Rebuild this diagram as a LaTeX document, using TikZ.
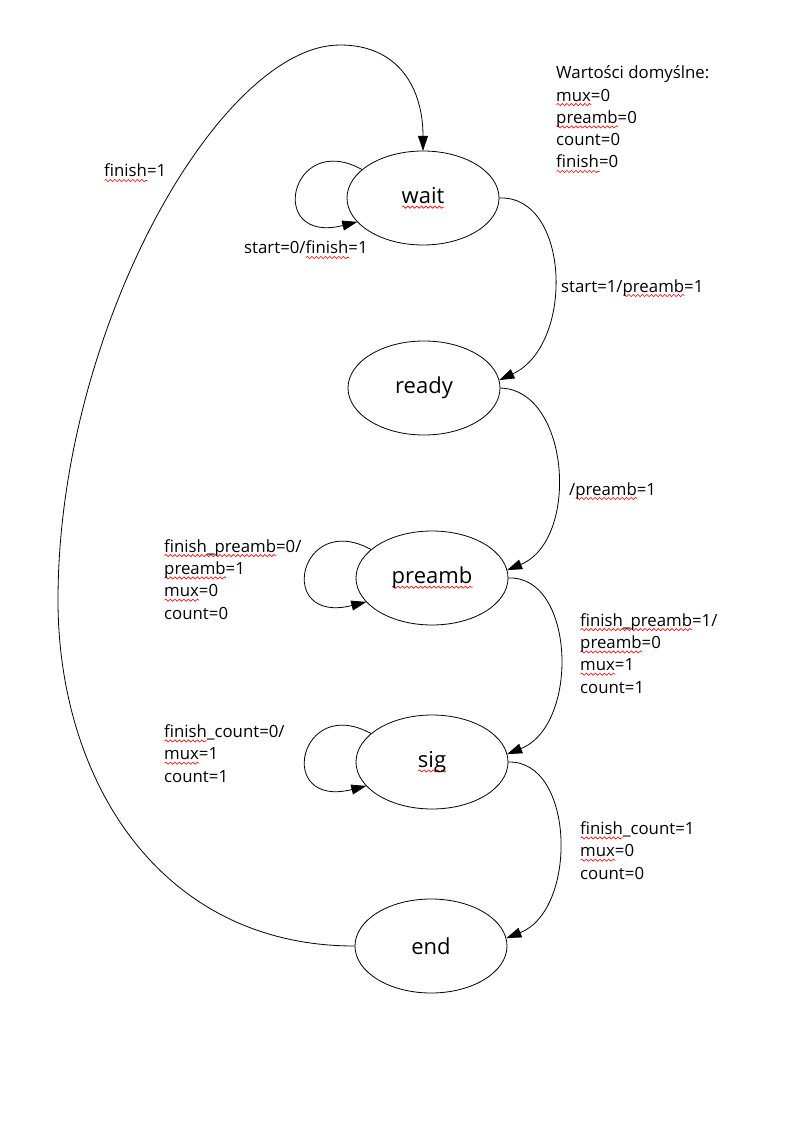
\documentclass[tikz,border=0pt]{standalone}
\usepackage{fontspec}
\setmainfont{Open Sans}
\usetikzlibrary{shapes.geometric,arrows.meta,decorations.pathmorphing}
\tikzset{spellwave/.style={red, line width=0.6pt, decorate, decoration={snake, amplitude=1.1pt, segment length=4.5pt}}}
% red wavy underline, as in the original drawing
\newsavebox\spellbox
\newlength\spellwd
\newcommand\spell[1]{\sbox\spellbox{#1}\setlength\spellwd{\wd\spellbox}%
    \rlap{\tikz[baseline=0pt]\draw[spellwave] (0pt,-3.5pt) -- (\spellwd,-3.5pt);}\usebox\spellbox}

\begin{document}
\begin{tikzpicture}[x=1pt, y=-1pt, >={Triangle[length=15pt,width=10pt]}, line width=0.8pt]
    \tikzstyle{every node}=[align = left, font=\fontsize{16.8}{22.3}\selectfont]
    \tikzstyle{stateoval}=[draw, ellipse, minimum width=152pt, minimum height=94pt, inner sep=0pt, font=\fontsize{22}{26}\selectfont]
    \tikzstyle{lbl}=[anchor=base west, inner sep=0pt]
    \tikzstyle{selfloop}=[->]
    \useasboundingbox (0,0) rectangle (794,1123);

    % states
    \node[stateoval] (wait) at (423,198) {\spell{wait}};
    \node[stateoval] (ready) at (424,388) {ready};
    \node[stateoval] (preamb) at (432,578) {\spell{preamb}};
    \node[stateoval] (sig) at (432,762) {\spell{sig}};
    \node[stateoval] (end) at (431,946) {end};

    % transitions
    \draw[->] (wait.east) .. controls (570,195) and (575,345) .. (ready.6);
    \draw[->] (ready.east) .. controls (570,390) and (580,540) .. (preamb.6);
    \draw[->] (preamb.east) .. controls (575,575) and (580,725) .. (sig.6);
    \draw[->] (sig.east) .. controls (575,760) and (578,910) .. (end.6);
    \draw[->] (end.west) .. controls (160,946) and (58,780) .. (58,600)
        .. controls (58,330) and (220,45) .. (340,45)
        .. controls (400,45) and (423,90) .. (wait.north);

    % self loops
    \draw[selfloop] (wait.155) .. controls +(-72,-40) and +(-92,23) .. (wait.200);
    \draw[selfloop] (preamb.155) .. controls +(-72,-40) and +(-92,23) .. (preamb.200);
    \draw[selfloop] (sig.155) .. controls +(-72,-40) and +(-92,23) .. (sig.200);

    % labels (base = last line)
    \node[lbl] (defaults) at (556,168) {Wartości domyślne:\\\spell{mux}=0\\\spell{preamb}=0\\count=0\\\spell{finish}=0};
    \node[lbl] (lbackjump) at (104,177) {\spell{finish}=1};
    \node[lbl] (lwaitloop) at (244,254) {start=0/\spell{finish}=1};
    \node[lbl] (lwaitready) at (561,292) {start=1/\spell{preamb}=1};
    \node[lbl] (lreadypre) at (569,495) {/\spell{preamb}=1};
    \node[lbl] (lpreloop) at (164,619) {\spell{finish\_preamb}=0/\\\spell{preamb}=1\\\spell{mux}=0\\count=0};
    \node[lbl] (lpresig) at (580,693) {\spell{finish\_preamb}=1/\\\spell{preamb}=0\\\spell{mux}=1\\count=1};
    \node[lbl] (lsigloop) at (164,782) {\spell{finish}\_count=0/\\\spell{mux}=1\\count=1};
    \node[lbl] (lsigend) at (580,879) {\spell{finish}\_count=1\\\spell{mux}=0\\count=0};
\end{tikzpicture}
\end{document}
